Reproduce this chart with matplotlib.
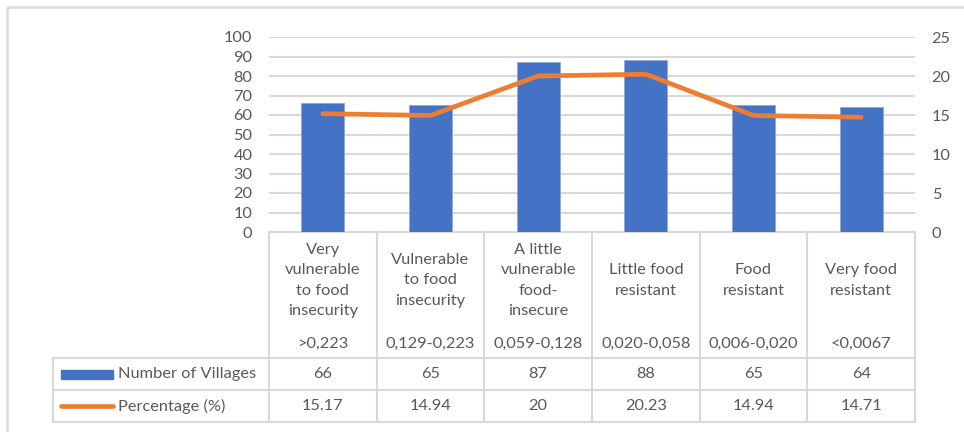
import numpy as np
import matplotlib
matplotlib.use("Agg")
import matplotlib.pyplot as plt
from matplotlib.patches import Rectangle

plt.rcParams['font.family'] = ['Lato', 'DejaVu Sans']
FS = 11.8
plt.rcParams['font.size'] = FS

categories = ["Very\nvulnerable\nto food\ninsecurity", "Vulnerable\nto food\ninsecurity",
              "A little\nvulnerable\nfood-\ninsecure", "Little food\nresistant",
              "Food\nresistant", "Very food\nresistant"]
ranges = [">0,223", "0,129-0,223", "0,059-0,128", "0,020-0,058", "0,006-0,020", "<0,0067"]
villages = [66, 65, 87, 88, 65, 64]
percent = [15.17, 14.94, 20, 20.23, 14.94, 14.71]
percent_labels = ["15.17", "14.94", "20", "20.23", "14.94", "14.71"]

BLUE = '#4472C4'
ORANGE = '#ED7D31'
GRID = '#D9D9D9'
TXT = '#595959'

W, H = 964, 432
fig = plt.figure(figsize=(W / 100, H / 100), dpi=100)

# pixel layout of the plot area and table
px_left, px_right = 269, 915
px_top, px_zero = 37, 232
row_num, row_pct, row_end = 358, 390, 422
hdr_left = 53

# full-figure canvas in pixel units for the frame and the data table
canvas = fig.add_axes([0, 0, 1, 1])
canvas.set_xlim(0, W)
canvas.set_ylim(H, 0)
canvas.axis('off')
canvas.add_patch(Rectangle((7, 7), W + 10, H + 10, fill=False, edgecolor=GRID, lw=1.8))

ax = fig.add_axes([px_left / W, (H - px_zero) / H,
                   (px_right - px_left) / W, (px_zero - px_top) / H])
ax.patch.set_alpha(0)
x = np.arange(len(villages))
ax.bar(x, villages, width=0.4, color=BLUE, edgecolor='#8FAADC', linewidth=0.6, zorder=3)
ax.set_xlim(-0.5, len(villages) - 0.5)
ax.set_ylim(0, 100)
ax.set_yticks(np.arange(0, 101, 10))
ax.yaxis.grid(True, color=GRID, lw=1.5, zorder=0)
ax.set_xticks([])
for s in ax.spines.values():
    s.set_visible(False)
ax.tick_params(axis='y', length=0, pad=12, labelcolor=TXT, labelsize=FS)

ax2 = ax.twinx()
ax2.plot(x, percent, color=ORANGE, lw=3.4, solid_capstyle='round',
         solid_joinstyle='round', zorder=4)
ax2.set_ylim(0, 25)
ax2.set_yticks(np.arange(0, 26, 5))
for s in ax2.spines.values():
    s.set_visible(False)
ax2.tick_params(axis='y', length=0, pad=12, labelcolor=TXT, labelsize=FS)

# data table under the plot
col_w = (px_right - px_left) / len(villages)
edges = px_left + col_w * np.arange(len(villages) + 1)
centers = (edges[:-1] + edges[1:]) / 2
lk = dict(color=GRID, lw=1.5, solid_capstyle='projecting')
canvas.plot([px_left, px_right], [px_zero, px_zero], **lk)
for yy in (row_num, row_pct, row_end):
    canvas.plot([hdr_left, px_right], [yy, yy], **lk)
for xx in edges:
    canvas.plot([xx, xx], [px_zero, row_end], **lk)
canvas.plot([hdr_left, hdr_left], [row_num, row_end], **lk)

for cx, name, rng, v, p in zip(centers, categories, ranges, villages, percent_labels):
    canvas.text(cx, 280.5, name, ha='center', va='center', color=TXT,
                fontsize=FS, linespacing=1.57)
    canvas.text(cx, 344, rng, ha='center', va='center', color=TXT, fontsize=FS)
    canvas.text(cx, (row_num + row_pct) / 2, str(v), ha='center', va='center',
                color=TXT, fontsize=FS)
    canvas.text(cx, (row_pct + row_end) / 2, p, ha='center', va='center',
                color=TXT, fontsize=FS)

# legend keys inside the row headers
canvas.add_patch(Rectangle((61, 370), 52, 9, color=BLUE))
canvas.plot([61, 113], [406, 406], color=ORANGE, lw=3.4, solid_capstyle='round')
canvas.text(118, (row_num + row_pct) / 2, "Number of Villages", ha='left',
            va='center', color=TXT, fontsize=FS)
canvas.text(118, (row_pct + row_end) / 2, "Percentage (%)", ha='left',
            va='center', color=TXT, fontsize=FS)

fig.savefig("out.png", dpi=100, facecolor='white')
